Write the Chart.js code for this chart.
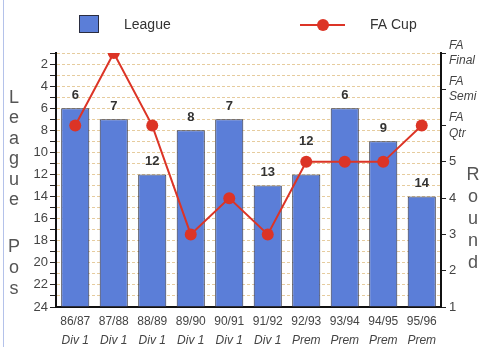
<!DOCTYPE html>
<html>
<head>
<meta charset="utf-8">
<script src="https://cdn.jsdelivr.net/npm/chart.js@4/dist/chart.umd.min.js"></script>
<style>
  html, body { margin: 0; padding: 0; background: #fff; }
  #wrap { position: relative; width: 488px; height: 347px; }
</style>
</head>
<body>
<div id="wrap"><canvas id="grafica" width="488" height="347"></canvas></div>
<script>
// Temporadas y divisiones
const temporadas = ["86/87", "87/88", "88/89", "89/90", "90/91", "91/92", "92/93", "93/94", "94/95", "95/96"];
const divisiones = ["Div 1", "Div 1", "Div 1", "Div 1", "Div 1", "Div 1", "Prem", "Prem", "Prem", "Prem"];

// Posición final en liga (1 = campeón)
const posicionLiga = [6, 7, 12, 8, 7, 13, 12, 6, 9, 14];
// Ronda alcanzada en la FA Cup (6 = Qtr, 7 = Semi, 8 = Final)
const rondaCopa = [6, 8, 6, 3, 4, 3, 5, 5, 5, 6];

// Etiquetas del eje derecho por encima de la ronda 5
const rondasCopa = { 6: ["FA", "Qtr"], 7: ["FA", "Semi"], 8: ["FA", "Final"] };

const FUENTE = "'Liberation Sans', Arial, sans-serif";
const AZUL = "#5b7ed8";
const ROJO = "#dc3426";

// Leyenda, títulos de ejes en letras apiladas y valores sobre las barras
const extras = {
  id: "extras",
  afterDraw(chart) {
    const ctx = chart.ctx;
    const escalaY = chart.scales.y;
    const puntos = chart.getDatasetMeta(1).data;
    ctx.save();

    // marco lateral
    ctx.strokeStyle = "#b4c2ea";
    ctx.lineWidth = 1;
    ctx.beginPath();
    ctx.moveTo(3.5, 0);
    ctx.lineTo(3.5, 347);
    ctx.stroke();

    // valores de liga encima de cada barra (se suben si chocan con un punto de copa)
    const meta = chart.getDatasetMeta(0);
    ctx.fillStyle = "#333";
    ctx.font = "bold 13px " + FUENTE;
    ctx.textAlign = "center";
    ctx.textBaseline = "middle";
    meta.data.forEach((bar, i) => {
      let y = escalaY.getPixelForValue(posicionLiga[i]) - 13;
      if (Math.abs(y - puntos[i].y) < 12) y = puntos[i].y - 20;
      ctx.fillText(String(posicionLiga[i]), bar.x, y);
    });

    // leyenda
    ctx.fillStyle = AZUL;
    ctx.fillRect(79, 15, 20, 18);
    ctx.strokeStyle = "#2a2d40";
    ctx.strokeRect(79.5, 15.5, 19, 17);
    ctx.fillStyle = "#333";
    ctx.font = "14px " + FUENTE;
    ctx.textAlign = "left";
    ctx.fillText("League", 124, 25);

    ctx.strokeStyle = ROJO;
    ctx.lineWidth = 2;
    ctx.beginPath();
    ctx.moveTo(300, 25);
    ctx.lineTo(345, 25);
    ctx.stroke();
    ctx.fillStyle = ROJO;
    ctx.beginPath();
    ctx.arc(323, 25, 6, 0, Math.PI * 2);
    ctx.fill();
    ctx.fillStyle = "#333";
    ctx.fillText("FA Cup", 370, 25);

    // títulos verticales
    ctx.fillStyle = "#555";
    ctx.font = "18px " + FUENTE;
    ctx.textAlign = "center";
    "League".split("").forEach((c, i) => ctx.fillText(c, 14, 98 + i * 20.5));
    "Pos".split("").forEach((c, i) => ctx.fillText(c, 14, 247 + i * 21));
    "Round".split("").forEach((c, i) => ctx.fillText(c, 473, 175 + i * 22));

    ctx.restore();
  },
};

const ctx = document.getElementById("grafica").getContext("2d");

new Chart(ctx, {
  type: "bar",
  data: {
    labels: temporadas,
    datasets: [
      {
        label: "League",
        data: posicionLiga.map((p) => [24, p]),
        backgroundColor: AZUL,
        borderColor: "#2a2d40",
        borderWidth: 1,
        borderSkipped: false,
        barPercentage: 0.73,
        categoryPercentage: 1,
        yAxisID: "y",
        order: 2,
      },
      {
        type: "line",
        label: "FA Cup",
        data: rondaCopa,
        borderColor: ROJO,
        borderWidth: 2,
        pointRadius: 6,
        pointBackgroundColor: ROJO,
        pointBorderWidth: 0,
        tension: 0,
        yAxisID: "y2",
        order: 1,
      },
    ],
  },
  options: {
    responsive: false,
    animation: false,
    layout: { padding: { top: 53, left: 0, right: 0, bottom: 0 } },
    plugins: {
      legend: { display: false },
      tooltip: { enabled: false },
    },
    scales: {
      x: {
        offset: true,
        grid: { display: false, drawTicks: false },
        border: { display: true, color: "#111", width: 2 },
        ticks: { color: "#444", font: { family: FUENTE, size: 12 }, padding: 7 },
        afterFit: (s) => { s.height = 22; },
      },
      x2: {
        type: "category",
        position: "bottom",
        labels: divisiones,
        offset: true,
        grid: { display: false, drawTicks: false },
        border: { display: false },
        ticks: { color: "#444", font: { family: FUENTE, size: 12, style: "italic" }, padding: 4 },
        afterFit: (s) => { s.height = 18; },
      },
      y: {
        position: "left",
        reverse: true,
        min: 1,
        max: 24,
        ticks: {
          stepSize: 1,
          autoSkip: false,
          color: "#444",
          font: { family: FUENTE, size: 13 },
          padding: 2,
          callback: (v) => (v % 2 === 0 ? v : ""),
        },
        grid: {
          color: "#e6cc9e",
          lineWidth: 1,
          tickColor: "#222",
          tickLength: 6,
        },
        border: { display: true, color: "#111", width: 2, dash: [3, 2] },
        afterFit: (s) => { s.width = 56; },
      },
      y2: {
        position: "right",
        min: 1,
        max: 8,
        ticks: {
          stepSize: 1,
          autoSkip: false,
          color: "#444",
          padding: 3,
          font: (c) =>
            c.tick && c.tick.value >= 6
              ? { family: FUENTE, size: 12, style: "italic", lineHeight: 1.3 }
              : { family: FUENTE, size: 13 },
          callback: (v) => rondasCopa[v] || v,
        },
        grid: { drawOnChartArea: false, tickColor: "#222", tickLength: 5 },
        border: { display: true, color: "#111", width: 2 },
        afterFit: (s) => { s.width = 47; },
      },
    },
  },
  plugins: [extras],
});
</script>
</body>
</html>
